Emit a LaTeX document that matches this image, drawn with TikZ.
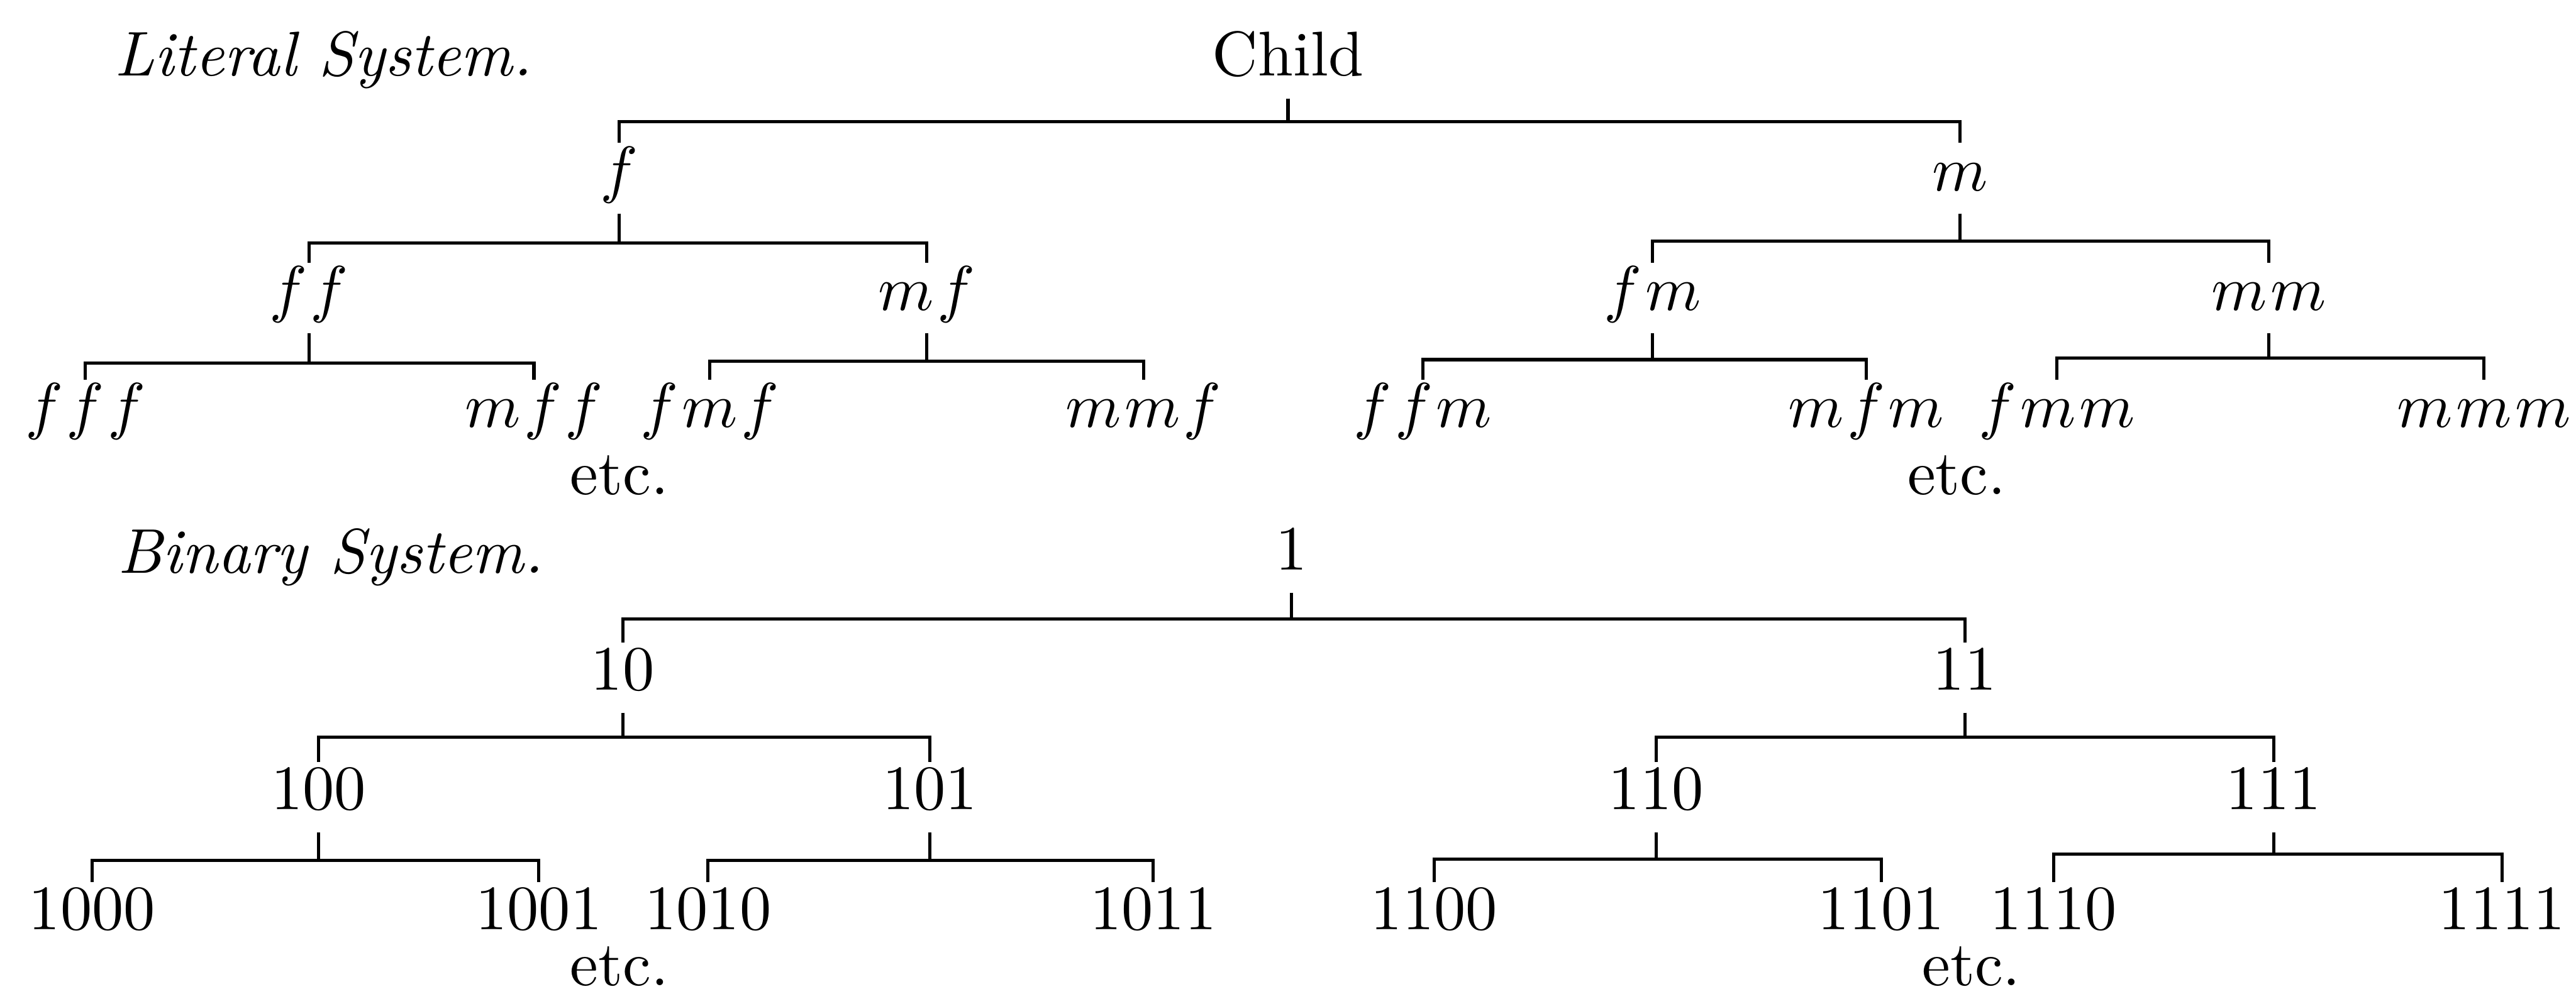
\documentclass[tikz,border=0pt]{standalone}
\usepackage{tikz}

\newcommand{\gp}{\mkern1mu}

\begin{document}
\begin{tikzpicture}[
  x=0.1mm, y=-0.1mm,
  line width=0.55pt,
  every node/.style={inner sep=0pt, anchor=base, font=\fontsize{10.95}{13}\selectfont},
  kin/.style={text height=2.8mm, text depth=1.3mm},
  head/.style={anchor=base west, font=\fontsize{10.95}{13}\selectfont\itshape}
]
\useasboundingbox (0,0) rectangle (1568,605);

% literal system
\node[head] (lithead) at (69,46) {Literal System.};

\node[kin] (child) at (784,46)  {Child};

\node[kin] (f)   at (377,116)  {$f$};
\node[kin] (m)   at (1193,116) {$m$};

\node[kin] (ff)  at (188,189)  {$f\gp f$};
\node[kin] (mf)  at (564,189)  {$m\gp f$};
\node[kin] (fm)  at (1006,189) {$f\gp m$};
\node[kin] (mm)  at (1381,189) {$m\gp m$};

\node[kin] (fff) at (52,260)   {$f\gp f\gp f$};
\node[kin] (mff) at (325,260)  {$m\gp f\gp f$};
\node[kin] (fmf) at (432,260)  {$f\gp m\gp f$};
\node[kin] (mmf) at (696,260)  {$m\gp m\gp f$};
\node[kin] (ffm) at (866,260)  {$f\gp f\gp m$};
\node[kin] (mfm) at (1136,260) {$m\gp f\gp m$};
\node[kin] (fmm) at (1252,260) {$f\gp m\gp m$};
\node[kin] (mmm) at (1512,260) {$m\gp m\gp m$};

\node (etcA) at (377,301)  {etc.};
\node (etcB) at (1191,301) {etc.};

\draw (child.south) -- ++(0,14) -| (f.north);
\draw (child.south) -- ++(0,14) -| (m.north);

\draw (f.south) -- ++(0,18) -| (ff.north);
\draw (f.south) -- ++(0,18) -| (mf.north);
\draw (m.south) -- ++(0,17) -| (fm.north);
\draw (m.south) -- ++(0,17) -| (mm.north);

\draw (ff.south) -- ++(0,18) -| (fff.north);
\draw (ff.south) -- ++(0,18) -| (mff.north);
\draw (mf.south) -- ++(0,17) -| (fmf.north);
\draw (mf.south) -- ++(0,17) -| (mmf.north);
\draw (fm.south) -- ++(0,16) -| (ffm.north);
\draw (fm.south) -- ++(0,16) -| (mfm.north);
\draw (mm.south) -- ++(0,15) -| (fmm.north);
\draw (mm.south) -- ++(0,15) -| (mmm.north);

% binary system
\node[head] (binhead) at (71,349) {Binary System.};

\node[kin] (b1)    at (786,347)  {1};

\node[kin] (b10)   at (379,420)  {10};
\node[kin] (b11)   at (1196,420) {11};

\node[kin] (b100)  at (194,493)  {100};
\node[kin] (b101)  at (566,493)  {101};
\node[kin] (b110)  at (1008,493) {110};
\node[kin] (b111)  at (1384,493) {111};

\node[kin] (b1000) at (56,566)   {1000};
\node[kin] (b1001) at (328,566)  {1001};
\node[kin] (b1010) at (431,566)  {1010};
\node[kin] (b1011) at (702,566)  {1011};
\node[kin] (b1100) at (873,566)  {1100};
\node[kin] (b1101) at (1145,566) {1101};
\node[kin] (b1110) at (1250,566) {1110};
\node[kin] (b1111) at (1523,566) {1111};

\node (etcC) at (377,600)  {etc.};
\node (etcD) at (1200,600) {etc.};

\draw (b1.south) -- ++(0,16) -| (b10.north);
\draw (b1.south) -- ++(0,16) -| (b11.north);

\draw (b10.south) -- ++(0,15) -| (b100.north);
\draw (b10.south) -- ++(0,15) -| (b101.north);
\draw (b11.south) -- ++(0,15) -| (b110.north);
\draw (b11.south) -- ++(0,15) -| (b111.north);

\draw (b100.south) -- ++(0,17) -| (b1000.north);
\draw (b100.south) -- ++(0,17) -| (b1001.north);
\draw (b101.south) -- ++(0,17) -| (b1010.north);
\draw (b101.south) -- ++(0,17) -| (b1011.north);
\draw (b110.south) -- ++(0,16) -| (b1100.north);
\draw (b110.south) -- ++(0,16) -| (b1101.north);
\draw (b111.south) -- ++(0,13) -| (b1110.north);
\draw (b111.south) -- ++(0,13) -| (b1111.north);

\end{tikzpicture}
\end{document}
